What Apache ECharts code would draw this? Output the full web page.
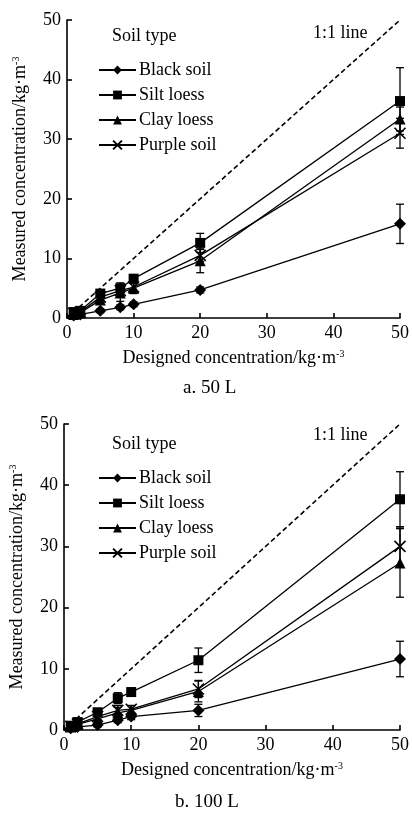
<!DOCTYPE html>
<html>
<head>
<meta charset="utf-8">
<script src="https://cdn.jsdelivr.net/npm/echarts@6/dist/echarts.min.js"></script>
<style>html,body{margin:0;padding:0;background:#fff;}#c{width:412px;height:814px;}</style>
</head>
<body>
<div id="c"></div>
<script>
// ---- data ----
const xValues = [1, 2, 5, 8, 10, 20, 50];
const seriesNames = ['Black soil', 'Silt loess', 'Clay loess', 'Purple soil'];
const axisTicks = [0, 10, 20, 30, 40, 50];

// Panel a (50 L)
const blackA  = [0.4, 0.6, 1.2, 1.8, 2.3, 4.7, 15.8];
const siltA   = [1.0, 1.2, 4.1, 5.0, 6.6, 12.6, 36.4];
const clayA   = [0.6, 0.9, 3.0, 4.2, 5.0, 9.6, 33.4];
const purpleA = [0.8, 1.0, 3.5, 4.6, 5.2, 10.5, 31.0];
const errBlackA  = [0.2, 0.2, 0.3, 0.4, 0.4, 0.5, 3.3];
const errSiltA   = [0.4, 0.3, 0.5, 0.9, 0.6, 1.6, 5.6];
const errClayA   = [0.2, 0.2, 0.4, 1.4, 0.9, 2.0, 2.0];
const errPurpleA = [0.2, 0.2, 0.4, 1.0, 0.6, 1.0, 2.5];

// Panel b (100 L)
const blackB  = [0.3, 0.5, 0.8, 1.6, 2.2, 3.2, 11.6];
const siltB   = [0.7, 1.3, 2.9, 5.2, 6.2, 11.4, 37.7];
const clayB   = [0.5, 0.9, 1.8, 2.8, 3.2, 6.3, 27.3];
const purpleB = [0.6, 1.0, 2.2, 3.2, 3.4, 6.7, 30.0];
const errBlackB  = [0.2, 0.2, 0.3, 0.4, 0.5, 1.0, 2.9];
const errSiltB   = [0.3, 0.4, 0.5, 0.9, 0.6, 2.0, 4.5];
const errClayB   = [0.2, 0.3, 0.5, 0.9, 0.8, 1.7, 5.6];
const errPurpleB = [0.2, 0.3, 0.5, 0.8, 0.6, 1.4, 3.2];

const oneToOne = [[0, 0], [50, 50]];

// ---- styling ----
const FONT = 'Liberation Serif';
const symbols = ['diamond', 'rect', 'triangle', 'path://M0 0L10 10M10 0L0 10'];
const symbolSizes = [12, 10, 11, 11];

function pairs(ys) { return xValues.map((x, i) => [x, ys[i]]); }
function errData(ys, es) { return xValues.map((x, i) => [x, ys[i] - es[i], ys[i] + es[i]]); }

function errorRender(params, api) {
  const x = api.value(0), lo = api.value(1), hi = api.value(2);
  const p1 = api.coord([x, lo]), p2 = api.coord([x, hi]);
  const w = 4;
  const st = { stroke: '#000', lineWidth: 1.3 };
  return {
    type: 'group',
    children: [
      { type: 'line', shape: { x1: p1[0], y1: p1[1], x2: p2[0], y2: p2[1] }, style: st },
      { type: 'line', shape: { x1: p1[0] - w, y1: p1[1], x2: p1[0] + w, y2: p1[1] }, style: st },
      { type: 'line', shape: { x1: p2[0] - w, y1: p2[1], x2: p2[0] + w, y2: p2[1] }, style: st }
    ]
  };
}

function axisCommon() {
  return {
    type: 'value', min: 0, max: 50, interval: 10,
    axisLine: { show: true, lineStyle: { color: '#000', width: 1.6 } },
    axisTick: { show: true, inside: true, length: 5, lineStyle: { color: '#000', width: 1.6 } },
    axisLabel: { color: '#000', fontFamily: FONT, fontSize: 18, margin: 6 },
    splitLine: { show: false },
    nameTextStyle: {
      color: '#000', fontFamily: FONT, fontSize: 18,
      rich: { sup: { fontSize: 10, verticalAlign: 'top', color: '#000', fontFamily: FONT, padding: [0, 0, 8, 0] } }
    }
  };
}

const grids = [
  { left: 67, top: 20, width: 336, height: 298 },
  { left: 63, top: 424, width: 340, height: 306 }
];

const xAxes = [0, 1].map(i => Object.assign(axisCommon(), {
  gridIndex: i,
  name: 'Designed concentration/kg·m{sup|-3}',
  nameLocation: 'middle', nameGap: 31
}));
const yAxes = [0, 1].map(i => Object.assign(axisCommon(), {
  gridIndex: i,
  name: 'Measured concentration/kg·m{sup|-3}',
  nameLocation: 'middle', nameGap: 38
}));

const panels = [
  { ys: [blackA, siltA, clayA, purpleA], es: [errBlackA, errSiltA, errClayA, errPurpleA] },
  { ys: [blackB, siltB, clayB, purpleB], es: [errBlackB, errSiltB, errClayB, errPurpleB] }
];

const series = [];
panels.forEach((p, gi) => {
  series.push({
    type: 'line', xAxisIndex: gi, yAxisIndex: gi, data: oneToOne,
    symbol: 'none', silent: true,
    lineStyle: { color: '#000', width: 1.6, type: [5, 3] }
  });
  p.ys.forEach((ys, si) => {
    series.push({
      type: 'custom', xAxisIndex: gi, yAxisIndex: gi,
      renderItem: errorRender, data: errData(ys, p.es[si]),
      encode: { x: 0, y: [1, 2] }, silent: true, z: 3
    });
    series.push({
      type: 'line', name: seriesNames[si], xAxisIndex: gi, yAxisIndex: gi,
      data: pairs(ys), symbol: symbols[si], symbolSize: symbolSizes[si],
      showAllSymbol: true,
      lineStyle: { color: '#000', width: 1.3 },
      itemStyle: { color: '#000', borderColor: '#000', borderWidth: si === 3 ? 1.6 : 0 },
      z: 4
    });
  });
});

const legendCommon = {
  data: seriesNames, orient: 'vertical', left: 93,
  itemWidth: 37, itemHeight: 11, itemGap: 7, selectedMode: false,
  textStyle: { color: '#000', fontFamily: FONT, fontSize: 18, lineHeight: 18, padding: [0, 0, 0, -2] }
};

const textStyle = (t) => ({ text: t, fill: '#000', font: '18px "Liberation Serif"' });

const option = {
  animation: false,
  backgroundColor: '#fff',
  grid: grids,
  xAxis: xAxes,
  yAxis: yAxes,
  legend: [
    Object.assign({}, legendCommon, { top: 56 }),
    Object.assign({}, legendCommon, { top: 464 })
  ],
  graphic: [
    { type: 'text', left: 112, top: 27, style: textStyle('Soil type') },
    { type: 'text', left: 313, top: 24, style: textStyle('1:1 line') },
    { type: 'text', left: 183, top: 379, style: Object.assign(textStyle('a. 50 L'), { font: '19px "Liberation Serif"' }) },
    { type: 'text', left: 112, top: 435, style: textStyle('Soil type') },
    { type: 'text', left: 313, top: 426, style: textStyle('1:1 line') },
    { type: 'text', left: 175, top: 793, style: Object.assign(textStyle('b. 100 L'), { font: '19px "Liberation Serif"' }) }
  ],
  series: series
};

const chart = echarts.init(document.getElementById('c'));
chart.setOption(option);
</script>
</body>
</html>
